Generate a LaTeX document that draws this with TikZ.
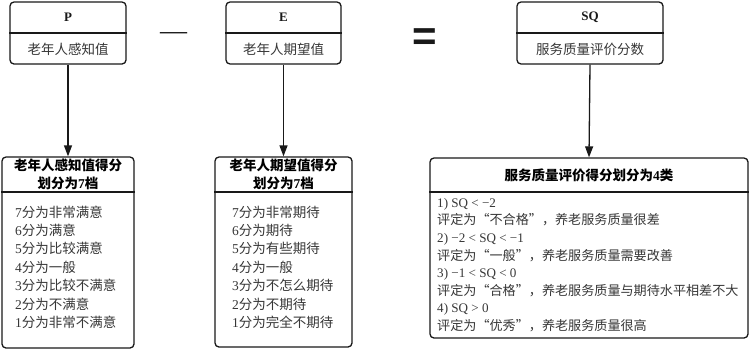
\documentclass[tikz,border=0pt]{standalone}
\usepackage{fontspec}
\setmainfont{Liberation Serif}
\newfontfamily\cjk{Noto Sans CJK SC}
\newfontfamily\opsans{Liberation Sans}
\newcommand{\zh}[1]{{\cjk #1}}
\usetikzlibrary{arrows.meta}
\definecolor{EvalInk}{RGB}{25,25,25}
\definecolor{EvalText}{RGB}{55,55,55}
\tikzset{
  eval/box/.style={
    draw=EvalInk,
    line width=1.3pt,
    rounded corners=4pt,
    fill=white,
    inner sep=0pt
  },
  eval/rule/.style={draw=EvalInk, line width=1.1pt},
  eval/arrow/.style={-{Triangle[length=11pt,width=8pt]}, line width=1.3pt, draw=EvalInk},
  eval/sym/.style={font=\fontsize{13}{15}\selectfont\bfseries, text=EvalInk},
  eval/sub/.style={font=\fontsize{13.5}{15}\selectfont, text=EvalText},
  eval/op/.style={text=EvalInk, inner sep=0pt},
  eval/title/.style={font=\fontsize{13.5}{18}\selectfont\bfseries, align=center, text=black},
  eval/list/.style={font=\fontsize{13.5}{18.4}\selectfont, align=left, anchor=north west, text=EvalText, inner sep=0pt}
}

\begin{document}
\begin{tikzpicture}[x=1pt,y=-1pt]
  \useasboundingbox (0,0) rectangle (751,349);

  % top row: P - E = SQ
  \foreach \nm/\sym/\sub/\x/\w in {
    p/P/老年人感知值/68/116,
    e/E/老年人期望值/283.5/115,
    sq/SQ/服务质量评价分数/590/146}
  {\node[eval/box,minimum width=\w pt,minimum height=62pt] (\nm) at (\x,33) {};
   \draw[eval/rule] (\nm.west) -- (\nm.east);
   \node[eval/sym] (\nm-sym) at (\x,17) {\sym};
   \node[eval/sub] (\nm-sub) at (\x,49) {\zh{\sub}};}
  \node[eval/op,font=\fontsize{27}{27}\selectfont] (minus) at (173.5,36) {—};
  \node[eval/op,font=\opsans\bfseries\fontsize{42}{42}\selectfont] (equals) at (424.5,40) {=};

  % grading boxes
  \node[eval/box,minimum width=132pt,minimum height=191pt] (pgrade) at (68,252.5) {};
  \node[eval/box,minimum width=137pt,minimum height=190pt] (egrade) at (283.5,252) {};
  \node[eval/box,minimum width=318pt,minimum height=180pt] (sqgrade) at (589,248) {};
  \foreach \nm in {pgrade,egrade,sqgrade}
    {\draw[eval/rule] (\nm.west |- 0,192) -- (\nm.east |- 0,192);}

  \node[eval/title] (pgrade-title) at (68,174) {\zh{老年人感知值得分}\\\zh{划分为}7\zh{档}};
  \node[eval/title] (egrade-title) at (283.5,174) {\zh{老年人期望值得分}\\\zh{划分为}7\zh{档}};
  \node[eval/title] (sqgrade-title) at (589,175) {\zh{服务质量评价得分划分为}4\zh{类}};

  \node[eval/list] (pgrade-list) at (15,205.5) {
    7\zh{分为非常满意}\\6\zh{分为满意}\\5\zh{分为比较满意}\\4\zh{分为一般}\\
    3\zh{分为比较不满意}\\2\zh{分为不满意}\\1\zh{分为非常不满意}};
  \node[eval/list] (egrade-list) at (232,205.5) {
    7\zh{分为非常期待}\\6\zh{分为期待}\\5\zh{分为有些期待}\\4\zh{分为一般}\\
    3\zh{分为不怎么期待}\\2\zh{分为不期待}\\1\zh{分为完全不期待}};
  \node[eval/list,font=\fontsize{13.1}{17.6}\selectfont] (sqgrade-list) at (437,198) {
    1) SQ < −2\\\zh{评定为“不合格”，养老服务质量很差}\\
    2) −2 < SQ < −1\\\zh{评定为“一般”，养老服务质量需要改善}\\
    3) −1 < SQ < 0\\\zh{评定为“合格”，养老服务质量与期待水平相差不大}\\
    4) SQ > 0\\\zh{评定为“优秀”，养老服务质量很高}};

  % arrows down
  \draw[eval/arrow] (p.south) -- (pgrade.north);
  \draw[eval/arrow] (e.south) -- (egrade.north);
  \draw[eval/arrow] (sq.south) -- (sqgrade.north);
\end{tikzpicture}
\end{document}
